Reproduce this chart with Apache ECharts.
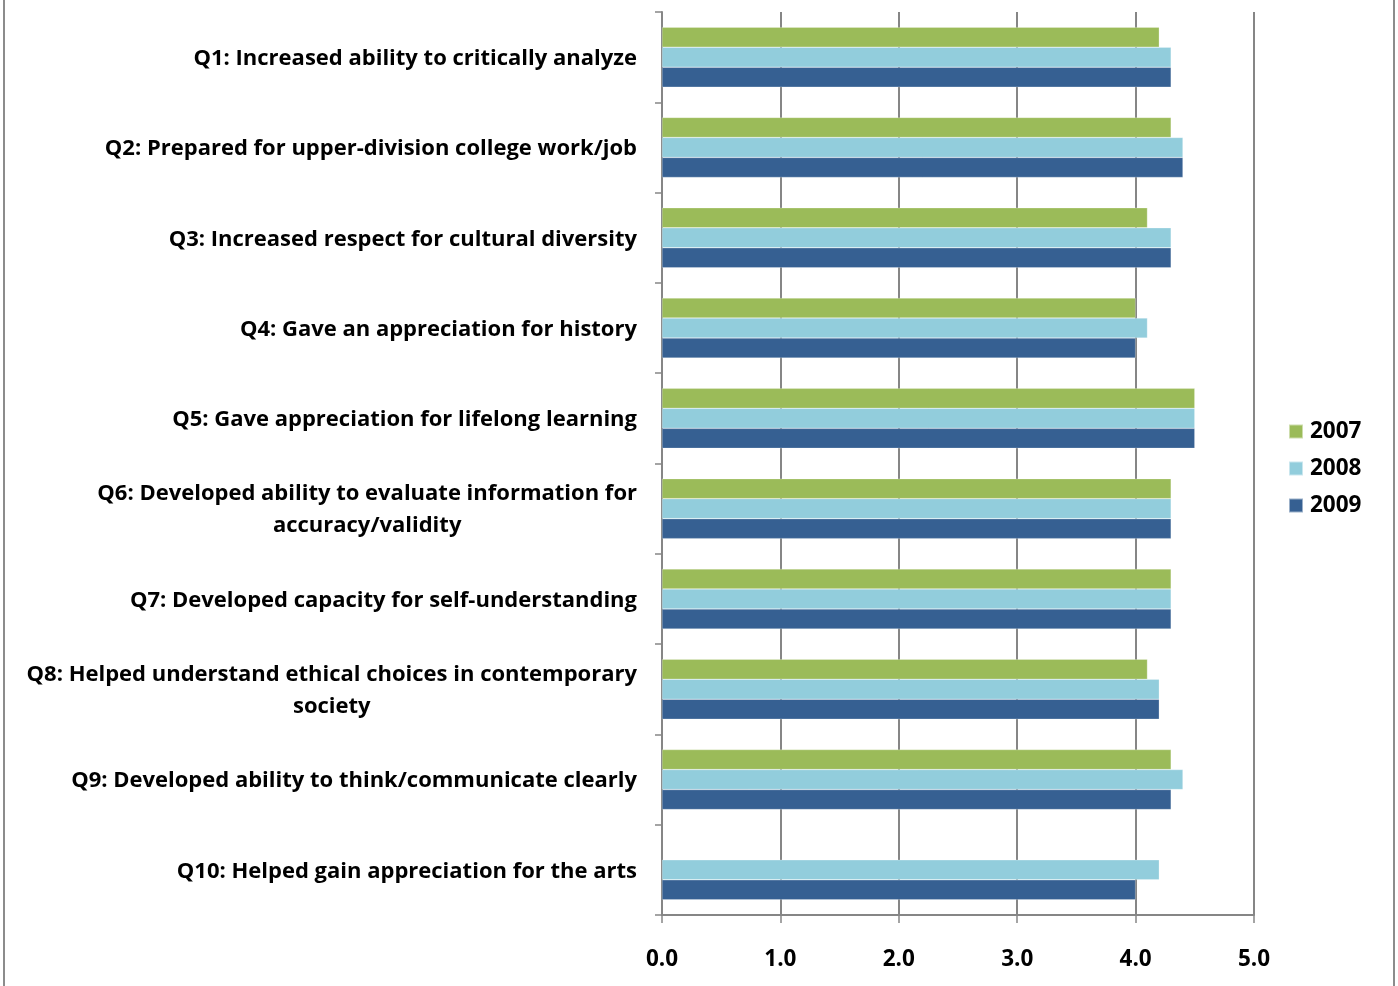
<!DOCTYPE html>
<html>
<head>
<meta charset="utf-8">
<script src="https://cdn.jsdelivr.net/npm/echarts@6/dist/echarts.min.js"></script>
<style>
html,body{margin:0;padding:0;background:#fff;}
#c{width:1398px;height:986px;}
</style>
</head>
<body>
<div id="c"></div>
<script>
const categories = [
  "Q1: Increased ability to critically analyze",
  "Q2: Prepared for upper-division college work/job",
  "Q3: Increased respect for cultural diversity",
  "Q4: Gave an appreciation for history",
  "Q5: Gave appreciation for lifelong learning",
  "Q6: Developed ability to evaluate information for\naccuracy/validity",
  "Q7: Developed capacity for self-understanding",
  "Q8: Helped understand ethical choices in contemporary\nsociety",
  "Q9: Developed ability to think/communicate clearly",
  "Q10: Helped gain appreciation for the arts"
];
const seriesNames = ["2007", "2008", "2009"];
const values2007 = [4.2, 4.3, 4.1, 4.0, 4.5, 4.3, 4.3, 4.1, 4.3, null];
const values2008 = [4.3, 4.4, 4.3, 4.1, 4.5, 4.3, 4.3, 4.2, 4.4, 4.2];
const values2009 = [4.3, 4.4, 4.3, 4.0, 4.5, 4.3, 4.3, 4.2, 4.3, 4.0];
const colors = ["#9BBB59", "#92CDDC", "#366092"];

const FONT = "Open Sans";
const FS = 22;
const FS2 = 22.5;
const chart = echarts.init(document.getElementById('c'));
const mk = (name, data, i) => ({
  name, type: 'bar', data,
  barWidth: 20, barGap: '0%', barCategoryGap: '33%',
  itemStyle: { color: colors[i], borderColor: 'rgba(255,255,255,0.5)', borderWidth: 0.5 },
  emphasis: { disabled: true }
});
chart.setOption({
  animation: false,
  backgroundColor: '#fff',
  graphic: [{
    type: 'rect', shape: { x: 4, y: -10, width: 1390, height: 1010 },
    style: { fill: 'none', stroke: '#8c8c8c', lineWidth: 2 }, silent: true
  }],
  grid: { left: 662, right: 144, top: 12, bottom: 71 },
  legend: {
    orient: 'vertical', left: 1283, top: 415,
    itemWidth: 14, itemHeight: 14, itemGap: 14,
    icon: 'rect',
    textStyle: { fontFamily: FONT, fontWeight: 'bold', fontSize: FS2, color: '#000', padding: [0, 0, 0, 2] },
    data: seriesNames
  },
  xAxis: {
    type: 'value', min: 0, max: 5, interval: 1,
    axisLine: { show: true, lineStyle: { color: '#868686', width: 2 } },
    axisTick: { show: true, length: 8, lineStyle: { color: '#868686', width: 1.5 } },
    splitLine: { show: true, lineStyle: { color: '#868686', width: 2 } },
    axisLabel: {
      margin: 33, fontFamily: FONT, fontWeight: 'bold', fontSize: FS2, color: '#000',
      formatter: v => v.toFixed(1)
    }
  },
  yAxis: {
    type: 'category', inverse: true, data: categories,
    axisLine: { show: true, lineStyle: { color: '#868686', width: 2 } },
    axisTick: { show: true, length: 7, lineStyle: { color: '#868686', width: 1.5 } },
    axisLabel: {
      margin: 25, fontFamily: FONT, fontWeight: 'bold', fontSize: FS, color: '#000',
      lineHeight: 32, align: 'right',
      formatter: v => v.split('\n').map(s => '{c|' + s + '}').join('\n'),
      rich: { c: { align: 'center', fontFamily: FONT, fontWeight: 'bold', fontSize: FS, lineHeight: 32, color: '#000', padding: [3, 0, 0, 0] } }
    }
  },
  series: [mk(seriesNames[0], values2007, 0), mk(seriesNames[1], values2008, 1), mk(seriesNames[2], values2009, 2)]
});
</script>
</body>
</html>
